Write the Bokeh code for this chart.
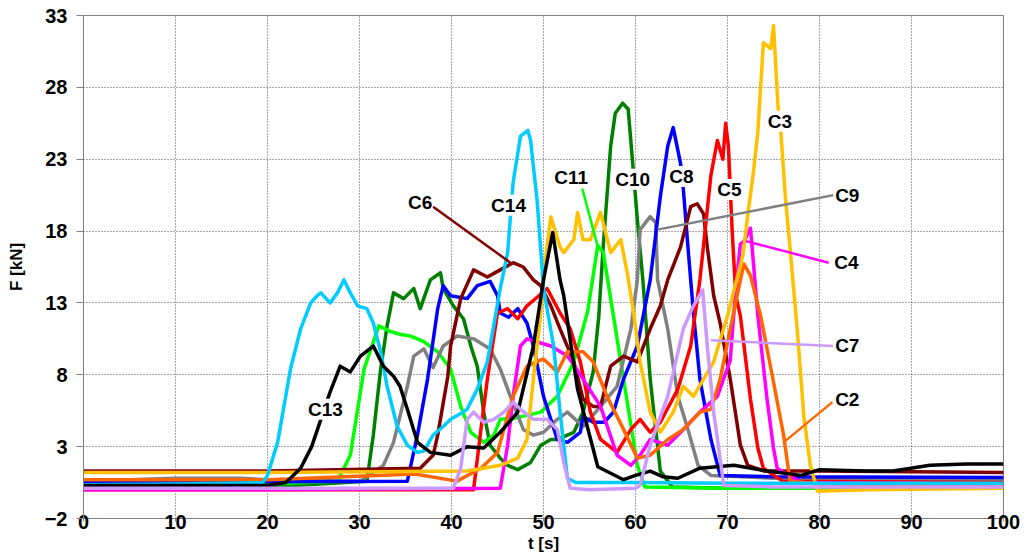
from bokeh.plotting import figure
from bokeh.models import FixedTicker, Label
from bokeh.embed import file_html
from bokeh.resources import INLINE

# ---------------- data ----------------
x_ticks = [0, 10, 20, 30, 40, 50, 60, 70, 80, 90, 100]
y_ticks = [-2, 3, 8, 13, 18, 23, 28, 33]

c14_t = [0, 10, 19.5, 20, 21.1, 22.5, 23.6, 24.7, 25.4, 25.8, 26.8, 27.6, 28.3, 29, 29.8, 30.8, 31.5, 32.3, 33,
         34.1, 35.2, 36.3, 37, 38, 39.1, 39.9, 41, 41.7, 42.8, 43.9, 45.3, 46.1, 46.7, 47.5, 48.3, 48.6, 48.9,
         49.3, 49.7, 50, 51.1, 51.8, 52.6, 53.5, 60, 70, 80, 90, 100]
c14_f = [0.35, 0.4, 0.5, 1.0, 3.3, 8.4, 11.2, 13.0, 13.5, 13.7, 13.0, 13.7, 14.6, 13.7, 12.8, 12.6, 11.6, 9.6, 7.2,
         4.4, 3.1, 2.6, 2.7, 3.8, 4.4, 4.9, 5.3, 5.6, 7.0, 8.9, 14.0, 16.5, 21.4, 24.6, 25.0, 24.3, 22.5,
         20.2, 16.7, 14.0, 10.0, 5.4, 0.8, 0.5, 0.5, 0.45, 0.45, 0.45, 0.45]

c13_t = [0, 10, 20, 22, 23.6, 24.8, 25.8, 26.8, 27.9, 29, 30.1, 31.5, 32.6, 33.7, 34.4, 35.2, 36.3, 37.7, 39.9,
         41.7, 43.5, 45.3, 47.2, 48.9, 50, 51, 51.8, 52.2, 53.7, 55.9, 58.7, 60, 61.6, 63, 64.6, 67, 70.7, 74.3,
         78, 80, 85, 88, 92, 96, 100]
c13_f = [0.3, 0.3, 0.3, 0.5, 1.5, 3.0, 4.9, 6.8, 8.6, 8.2, 9.3, 10.0, 8.6, 7.9, 7.2, 5.6, 3.3, 2.6, 2.4,
         3.0, 2.9, 4.0, 5.4, 10.0, 14.6, 17.9, 14.6, 13.5, 7.0, 1.6, 0.7, 1.0, 1.3, 0.9, 0.8, 1.5, 1.7, 1.3,
         1.0, 1.4, 1.3, 1.3, 1.7, 1.8, 1.8]

c11_t = [0, 20, 27.6, 29, 30.5, 32.1, 33.4, 34.5, 35.5, 37, 38.5, 39.9, 41, 42.1, 43.5, 44.6, 45.3, 47, 49.7,
         51.5, 53.3, 54.8, 55.9, 56.5, 57.3, 58.7, 60.2, 61, 70, 100]
c11_f = [0.4, 0.4, 0.6, 2.4, 8.4, 11.4, 11.0, 10.8, 10.7, 10.3, 9.6, 8.4, 5.8, 4.0, 3.3, 3.8, 4.9, 5.0, 5.4,
         6.5, 8.9, 12.4, 17.0, 16.5, 13.3, 7.7, 1.7, 0.2, 0.1, 0.1]

c10_t = [0, 20, 30.8, 31.5, 32.3, 33, 33.7, 34.8, 35.9, 36.6, 37.7, 38.8, 39.1, 40.2, 41.3, 42.1, 42.8, 43.5,
         44.2, 45.3, 46.1, 47.2, 48.6, 49.7, 50.8, 51.5, 53.3, 54.3, 55.4, 56.0, 56.5, 57.3, 57.8, 58.6, 59.2,
         59.7, 60.2, 60.8, 61.6, 62.7, 64, 70, 100]
c10_f = [0.2, 0.2, 0.6, 3.8, 8.4, 11.4, 13.7, 13.3, 14.0, 12.6, 14.6, 15.1, 14.0, 12.8, 11.9, 10.0, 8.6, 5.4,
         3.1, 2.2, 1.7, 1.4, 1.9, 3.1, 3.5, 3.5, 4.0, 5.4, 8.2, 12.0, 17.0, 23.9, 26.2, 26.9, 26.5,
         22.7, 18.8, 14.6, 7.7, 1.3, 0.2, 0.1, 0.1]

c9_t = [0, 10, 17, 20, 30.1, 32.6, 33.7, 35.2, 35.9, 37, 38, 39.1, 40.6, 42.4, 44.2, 45.3, 46.4, 47.8, 48.9,
        50, 51.5, 52.6, 54.3, 56.2, 58, 59.5, 60.2, 60.5, 61.6, 62.2, 62.4, 63.5, 64.6, 65.7, 66.8, 68.2, 75, 100]
c9_f = [0.6, 0.8, 0.8, 0.7, 0.6, 1.7, 3.3, 7.2, 9.3, 9.8, 8.5, 10.0, 10.7, 10.5, 9.8, 8.4, 6.5, 4.2, 3.8,
        4.0, 4.9, 5.4, 4.4, 5.8, 7.2, 11.2, 14.6, 18.1, 19.0, 18.6, 14.6, 11.2, 6.5, 4.2, 1.7, 1.0, 0.8, 0.7]

c8_t = [0, 20, 35.2, 36.3, 37.4, 38.5, 39.1, 39.9, 41.7, 42.8, 44.2, 45, 45.3, 46.2, 47.2, 48.2, 48.9, 50,
        51.5, 52.6, 54, 54.3, 55.4, 56.6, 57.6, 58.7, 60.2, 61.6, 62.7, 63.5, 64.1, 64.9, 65.2, 65.7, 66.3,
        67, 68.2, 69.2, 75, 100]
c8_f = [0.55, 0.55, 0.6, 3.8, 7.7, 12.6, 14.2, 13.5, 13.3, 14.2, 14.5, 13.5, 12.3, 12.0, 12.6, 11.6, 10.0, 6.5,
        3.5, 3.3, 4.0, 5.1, 4.7, 4.7, 5.4, 7.7, 10.0, 14.6, 20.4, 23.9, 25.2, 22.7, 20.9, 16.9, 12.3,
        7.7, 3.5, 1.0, 0.9, 0.85]

c6_t = [0, 20, 36.6, 38.0, 38.5, 39.6, 39.9, 41, 42.4, 43.9, 45.3, 46.7, 47.8, 48.9, 49.7, 50.8, 51.8, 53.3,
        54.3, 55.4, 56.2, 57.3, 58.7, 60.2, 61.6, 62.7, 63.5, 64.9, 66, 66.7, 67.4, 67.8, 68.5, 69.2, 70.3,
        71.4, 72.2, 74, 80, 100]
c6_f = [1.3, 1.3, 1.5, 2.4, 3.8, 7.9, 10.0, 13.3, 15.3, 14.8, 15.3, 15.8, 15.5, 14.6, 14.2, 12.8, 11.2, 8.9,
        6.3, 5.8, 5.8, 8.6, 9.3, 8.9, 11.2, 12.8, 14.6, 16.9, 19.7, 19.9, 19.2, 16.9, 13.5, 11.6, 7.7,
        3.1, 1.7, 1.3, 1.3, 1.2]

c5_t = [0, 20, 42.4, 43.2, 43.9, 45, 46.1, 47.2, 48.2, 49.5, 50.4, 51.8, 52.9, 54, 55.1, 56.2, 58, 59.5, 60.5,
        61.6, 62.7, 64.6, 66, 67, 68.2, 68.9, 69.5, 69.8, 70.1, 70.5, 70.9, 71.4, 72.5, 73.3, 73.9, 76, 100]
c5_f = [0.0, 0.0, 0.0, 4.2, 7.7, 12.3, 12.6, 11.9, 12.8, 13.5, 14.0, 12.3, 11.2, 8.9, 5.4, 3.5, 2.6, 4.2, 4.9,
        4.0, 4.7, 7.0, 10.0, 14.6, 21.9, 24.3, 23.0, 25.5, 23.9, 18.1, 13.5, 12.1, 6.3, 2.9, 1.5, 0.6, 0.5]

c4_t = [0, 20, 45.3, 46.1, 46.7, 47.5, 48.2, 50.8, 52.6, 53.3, 54.3, 56.2, 58, 59.5, 60.5, 61.6, 63.5, 65.2,
        67, 68.9, 70.3, 70.9, 71.4, 71.8, 72.5, 73.3, 74.3, 75, 75.4, 78, 100]
c4_f = [0.0, 0.0, 0.1, 3.1, 6.5, 10.0, 10.5, 10.0, 9.3, 8.7, 7.7, 5.8, 2.4, 1.7, 2.4, 3.5, 3.1, 4.2,
        5.4, 6.5, 9.0, 14.0, 17.1, 17.3, 18.2, 12.1, 6.3, 2.9, 1.5, 0.5, 0.4]

c2_t = [0, 20, 36, 40.6, 43.2, 45, 46.7, 48.2, 50, 51.5, 52.6, 53.3, 54.3, 55.4, 56.9, 58.7, 60.2, 61.6, 63.5,
        65.2, 67, 68.2, 69.2, 70.3, 71.4, 71.8, 72.5, 73.6, 75, 76.1, 76.8, 80, 100]
c2_f = [0.7, 0.7, 1.1, 0.6, 1.5, 2.6, 6.5, 8.6, 9.1, 8.2, 9.6, 9.6, 9.6, 8.9, 6.5, 4.2, 2.2, 2.4, 3.5,
        4.2, 5.4, 5.6, 7.7, 11.2, 14.6, 15.7, 14.9, 12.1, 7.5, 3.8, 0.6, 0.4, 0.3]

c3_t = [0, 20, 41.7, 45.3, 47.2, 48.2, 48.9, 49.7, 50.2, 50.8, 51.8, 52.2, 53.3, 53.7, 54.3, 55.1, 56.2, 57.3,
        58.4, 59.1, 59.8, 60.5, 61.6, 62.7, 64.1, 65.2, 66.3, 67.4, 68.5, 70, 71.7, 72.2, 72.8, 73.3, 73.9,
        74.7, 75, 75.5, 75.8, 76.3, 76.8, 77.6, 78.3, 79, 79.8, 85, 100]
c3_f = [1.2, 1.2, 1.3, 1.7, 2.2, 3.5, 7.7, 12.3, 16.0, 19.0, 16.9, 16.5, 17.4, 19.3, 17.4, 17.4, 19.3, 16.5,
        17.4, 15.1, 12.3, 8.9, 5.4, 4.0, 5.4, 7.2, 6.5, 7.7, 8.9, 12.1, 16.4, 19.1, 22.0, 24.9, 31.1,
        30.7, 32.3, 26.6, 24.9, 20.3, 16.8, 11.0, 5.1, 1.7, -0.1, 0.0, 0.1]

c7_t = [0, 20, 40.2, 41.0, 41.7, 42.4, 43.5, 44.6, 45.7, 46.7, 47.5, 48.9, 50.4, 51.5, 52.2, 52.9, 55, 60,
        60.5, 61.6, 63.5, 65.2, 66.3, 67.3, 67.8, 68.5, 69.6, 75, 100]
c7_f = [0.1, 0.1, 0.1, 1.5, 4.9, 5.4, 4.7, 4.9, 5.4, 6.1, 5.6, 4.9, 4.9, 4.2, 1.9, 0.1, 0.0, 0.1,
        0.3, 3.1, 6.5, 11.2, 12.8, 13.9, 10.0, 5.4, 0.3, 0.2, 0.2]

# drawing order: first is at the bottom
series = [
    ("C10", c10_t, c10_f, "#008000"),
    ("C11", c11_t, c11_f, "#00FF00"),
    ("C9", c9_t, c9_f, "#808080"),
    ("C8", c8_t, c8_f, "#0000FF"),
    ("C6", c6_t, c6_f, "#800000"),
    ("C5", c5_t, c5_f, "#FF0000"),
    ("C4", c4_t, c4_f, "#FF00FF"),
    ("C2", c2_t, c2_f, "#FF6600"),
    ("C3", c3_t, c3_f, "#FFC000"),
    ("C14", c14_t, c14_f, "#00CCFF"),
    ("C13", c13_t, c13_f, "#000000"),
    ("C7", c7_t, c7_f, "#CC99FF"),
]

# series labels (text, anchor t, anchor F, align)
labels = [
    ("C13", 26.3, 5.6, "center"),
    ("C6", 36.6, 20.0, "center"),
    ("C14", 46.2, 19.8, "center"),
    ("C11", 53.0, 21.7, "center"),
    ("C10", 59.7, 21.6, "center"),
    ("C8", 65.0, 21.8, "center"),
    ("C5", 70.2, 20.9, "center"),
    ("C3", 75.7, 25.65, "center"),
    ("C9", 81.7, 20.5, "left"),
    ("C4", 81.6, 15.8, "left"),
    ("C7", 81.7, 10.05, "left"),
    ("C2", 81.7, 6.25, "left"),
]

# leader lines (t0, F0, t1, F1, colour)
leaders = [
    (38.0, 19.7, 46.4, 15.8, "#800000"),
    (54.2, 21.0, 55.9, 16.9, "#00FF00"),
    (62.4, 18.1, 81.5, 20.5, "#808080"),
    (72.0, 17.3, 81.0, 15.8, "#FF00FF"),
    (68.2, 10.4, 81.5, 10.0, "#CC99FF"),
    (76.3, 3.4, 81.4, 6.1, "#FF6600"),
]

FONT = "Liberation Sans"

p = figure(width=1025, height=555, x_range=(0, 100), y_range=(-2, 33),
           output_backend="svg", toolbar_location=None,
           min_border_left=83, min_border_right=22, min_border_top=15, min_border_bottom=37)
p.background_fill_color = "white"
p.border_fill_color = "white"
p.outline_line_color = "#808080"
p.outline_line_width = 1

for ax, ticks in ((p.xaxis, x_ticks), (p.yaxis, y_ticks)):
    ax.ticker = FixedTicker(ticks=ticks)
    ax.minor_tick_line_color = None
    ax.axis_line_color = "#808080"
    ax.major_tick_line_color = "#808080"
    ax.major_tick_in = 0
    ax.major_label_text_font = FONT
    ax.major_label_text_font_style = "bold"
    ax.major_label_text_font_size = "20px"
    ax.major_label_text_color = "black"
    ax.axis_label_text_font = FONT
    ax.axis_label_text_font_style = "bold"
    ax.axis_label_text_font_size = "17px"
    ax.axis_label_text_color = "black"

p.xaxis.major_tick_out = 3
p.xaxis.major_label_standoff = -7
p.xaxis.axis_label = "t [s]"
p.xaxis.axis_label_standoff = 2
p.yaxis.major_tick_out = 7
p.yaxis.major_label_standoff = 9
p.yaxis.axis_label = "F [kN]"
p.yaxis.axis_label_standoff = 16

for g in (p.xgrid, p.ygrid):
    g.grid_line_color = "#505050"
    g.grid_line_dash = "1 2"
    g.grid_line_width = 1
p.xgrid.ticker = FixedTicker(ticks=x_ticks)
p.ygrid.ticker = FixedTicker(ticks=y_ticks)

for name, t, f, col in series:
    p.line(t, f, line_color=col, line_width=3.5, line_join="round")

for t0, f0, t1, f1, col in leaders:
    p.line([t0, t1], [f0, f1], line_color=col, line_width=2.5)

for txt, lx, ly, al in labels:
    p.add_layout(Label(x=lx, y=ly, text=txt, text_align=al, text_baseline="middle",
                       text_font=FONT, text_font_style="bold", text_font_size="19px",
                       text_color="black", background_fill_color="white"))

open("out.html", "w").write(file_html(p, INLINE))
